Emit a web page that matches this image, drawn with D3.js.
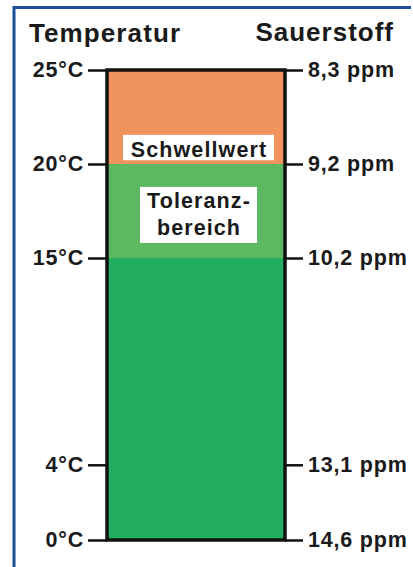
<!DOCTYPE html>
<html>
<head>
<meta charset="utf-8">
<script src="https://cdn.jsdelivr.net/npm/d3@7"></script>
<style>
  html, body { margin: 0; padding: 0; background: #fff; }
  svg { display: block; }
  text { font-family: "Liberation Sans", Arial, Helvetica, sans-serif; font-weight: bold; fill: #1a1a1a; }
</style>
</head>
<body>
<div id="chart"></div>
<script>
// ---- data ----
const tempTicks = [0, 4, 15, 20, 25];
const tempLabels = ["0°C", "4°C", "15°C", "20°C", "25°C"];
const oxygenLabels = ["14,6 ppm", "13,1 ppm", "10,2 ppm", "9,2 ppm", "8,3 ppm"];
const bandFrom = [20, 15, 0];
const bandTo = [25, 20, 15];
const bandColors = ["#f1935c", "#5cb962", "#22ad61"];
const leftTitle = "Temperatur";
const rightTitle = "Sauerstoff";
const noteLines1 = ["Schwellwert"];
const noteLines2 = ["Toleranz-", "bereich"];

// ---- layout ----
const W = 413, H = 567;
const x0 = 107, x1 = 285;
const svg = d3.select("#chart").append("svg").attr("width", W).attr("height", H);

const y = d3.scaleLinear().domain([0, 25]).range([540, 70]);

// blue frame
svg.append("path")
  .attr("d", `M14,567 L14,7.5 L411,7.5`)
  .attr("fill", "none").attr("stroke", "#1d4f97").attr("stroke-width", 3);

// titles
svg.append("text").attr("x", 29).attr("y", 42).attr("font-size", 26)
  .style("letter-spacing", "1.1px").text(leftTitle);
svg.append("text").attr("x", 394).attr("y", 41).attr("font-size", 26)
  .attr("text-anchor", "end").style("letter-spacing", "1.0px").text(rightTitle);

// bands
svg.selectAll("rect.band").data(bandFrom).join("rect")
  .attr("class", "band")
  .attr("x", x0).attr("width", x1 - x0)
  .attr("y", (d, i) => y(bandTo[i]))
  .attr("height", (d, i) => y(d) - y(bandTo[i]))
  .attr("fill", (d, i) => bandColors[i]);

// frame of bar
svg.append("rect")
  .attr("x", x0).attr("y", y(25)).attr("width", x1 - x0).attr("height", y(0) - y(25))
  .attr("fill", "none").attr("stroke", "#111").attr("stroke-width", 3.5);

// axes
const leftAxis = d3.axisLeft(y).tickValues(tempTicks)
  .tickFormat((d, i) => tempLabels[i]).tickSize(19).tickPadding(4);
const rightAxis = d3.axisRight(y).tickValues(tempTicks)
  .tickFormat((d, i) => oxygenLabels[i]).tickSize(18).tickPadding(5);

const gl = svg.append("g").attr("transform", `translate(${x0},0)`).call(leftAxis);
const gr = svg.append("g").attr("transform", `translate(${x1},0)`).call(rightAxis);
[gl, gr].forEach(g => {
  g.select(".domain").remove();
  g.selectAll(".tick line").attr("stroke", "#111").attr("stroke-width", 2.5);
  g.selectAll(".tick text").attr("font-size", 21.5).attr("fill", "#1a1a1a")
    .style("letter-spacing", "0.8px")
    .attr("font-family", "'Liberation Sans', Arial, sans-serif");
});

// annotation boxes
const cx = 199;
svg.append("rect").attr("x", 123).attr("y", y(21.55)).attr("width", 151)
  .attr("height", y(20.2) - y(21.55)).attr("fill", "#fff");
svg.append("text").attr("x", cx).attr("y", 157).attr("font-size", 21.5)
  .attr("text-anchor", "middle").style("letter-spacing", "1.1px").text(noteLines1[0]);

svg.append("rect").attr("x", 140).attr("y", y(18.78)).attr("width", 117)
  .attr("height", y(15.8) - y(18.78)).attr("fill", "#fff");
noteLines2.forEach((t, i) => {
  svg.append("text").attr("x", cx).attr("y", 208 + i * 27).attr("font-size", 21.5)
    .attr("text-anchor", "middle").style("letter-spacing", "1.1px").text(t);
});
</script>
</body>
</html>
